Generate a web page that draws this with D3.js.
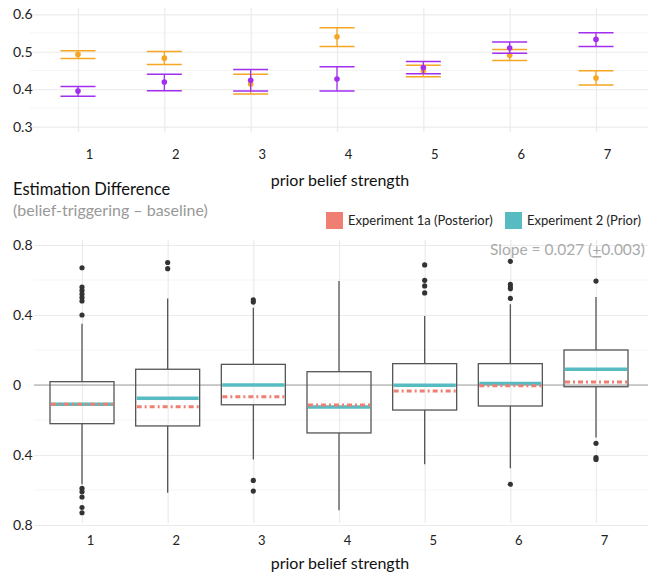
<!DOCTYPE html>
<html>
<head>
<meta charset="utf-8">
<script src="https://cdn.jsdelivr.net/npm/d3@7"></script>
<style>
  body { margin: 0; background: #fff; }
  svg { font-family: Lato, "Open Sans", sans-serif; }
</style>
</head>
<body>
<svg width="656" height="577"></svg>
<script>
// categories shared by both panels
const categories = [1, 2, 3, 4, 5, 6, 7];

// top panel: point estimate with interval (orange / purple)
const orangeMean = [0.493, 0.483, 0.414, 0.540, 0.449, 0.491, 0.430];
const orangeLow  = [0.482, 0.466, 0.387, 0.514, 0.433, 0.477, 0.411];
const orangeHigh = [0.503, 0.501, 0.440, 0.564, 0.464, 0.506, 0.449];
const purpleMean = [0.395, 0.419, 0.424, 0.427, 0.458, 0.510, 0.533];
const purpleLow  = [0.381, 0.396, 0.395, 0.395, 0.441, 0.496, 0.514];
const purpleHigh = [0.407, 0.440, 0.453, 0.460, 0.474, 0.526, 0.551];
const topTicks = [0.3, 0.4, 0.5, 0.6];

// bottom panel: box plots of estimation difference
const boxQ1     = [-0.221, -0.234, -0.113, -0.274, -0.143, -0.120, -0.010];
const boxQ3     = [0.019, 0.090, 0.118, 0.076, 0.122, 0.122, 0.200];
const boxMedian = [-0.110, -0.076, 0.000, -0.126, -0.002, 0.008, 0.090];
const boxMean1a = [-0.110, -0.124, -0.067, -0.114, -0.034, -0.004, 0.017];
const whiskLow  = [-0.567, -0.615, -0.425, -0.716, -0.453, -0.476, -0.300];
const whiskHigh = [0.350, 0.495, 0.442, 0.594, 0.394, 0.461, 0.503];
const outliers = [
  [0.67, 0.56, 0.54, 0.52, 0.50, 0.48, 0.40, -0.59, -0.61, -0.64, -0.70, -0.73],
  [0.70, 0.665],
  [0.486, 0.474, -0.545, -0.606],
  [],
  [0.686, 0.598, 0.566, 0.526],
  [0.707, 0.575, 0.56, 0.55, 0.495, -0.567],
  [0.594, -0.333, -0.415, -0.425]
];
const bottomTicks = [-0.8, -0.4, 0, 0.4, 0.8];
const legendLabels = ["Experiment 1a (Posterior)", "Experiment 2 (Prior)"];

const colors = {
  orange: "#f5a623",
  purple: "#a22ef0",
  red: "#ef7f72",
  teal: "#56bcc2",
  box: "#555555",
  grid: "#ebebeb",
  minor: "#f5f5f5"
};

const svg = d3.select("svg");

// ---------- top panel ----------
const xTop = d3.scalePoint().domain(categories).range([78, 596]);
const yTop = d3.scaleLinear().domain([0.3, 0.6]).range([126.7, 14.3]);

const gTop = svg.append("g");

// minor horizontal grid
gTop.selectAll("line.minor")
  .data([0.35, 0.45, 0.55])
  .enter().append("line")
  .attr("x1", 30).attr("x2", 648)
  .attr("y1", d => yTop(d)).attr("y2", d => yTop(d))
  .style("stroke", colors.minor).style("stroke-width", 1);

gTop.append("g")
  .call(d3.axisLeft(yTop).tickValues(topTicks).tickSize(-618).tickFormat(d3.format(".1f")))
  .attr("transform", "translate(30, 0)")
  .call(g => g.select(".domain").remove())
  .call(g => g.selectAll(".tick line").style("stroke", colors.grid).style("stroke-width", 1.2))
  .call(g => g.selectAll(".tick text")
    .attr("x", -17).attr("text-anchor", "start")
    .style("font-size", "14px").style("fill", "#222").style("font-family", "Lato, sans-serif"));

gTop.append("g")
  .attr("transform", "translate(0, 132)")
  .call(d3.axisBottom(xTop).tickSize(-124).tickPadding(0))
  .call(g => g.select(".domain").remove())
  .call(g => g.selectAll(".tick line").style("stroke", colors.grid).style("stroke-width", 1.2))
  .call(g => g.selectAll(".tick text")
    .attr("dx", 11).attr("y", 18)
    .style("font-size", "13px").style("fill", "#222").style("font-family", "Lato, sans-serif"));

function drawIntervals(mean, low, high, color) {
  const g = gTop.append("g");
  categories.forEach((c, i) => {
    const cx = xTop(c);
    g.append("line").attr("x1", cx).attr("x2", cx)
      .attr("y1", yTop(low[i])).attr("y2", yTop(high[i]))
      .style("stroke", color).style("stroke-width", 1.3);
    [low[i], high[i]].forEach(v => {
      g.append("line").attr("x1", cx - 17.5).attr("x2", cx + 17.5)
        .attr("y1", yTop(v)).attr("y2", yTop(v))
        .style("stroke", color).style("stroke-width", 1.5);
    });
  });
  g.selectAll("circle").data(mean).enter().append("circle")
    .attr("cx", (d, i) => xTop(categories[i]))
    .attr("cy", d => yTop(d))
    .attr("r", 2.8)
    .style("fill", color);
}
drawIntervals(orangeMean, orangeLow, orangeHigh, colors.orange);
drawIntervals(purpleMean, purpleLow, purpleHigh, colors.purple);

svg.append("text")
  .attr("x", 340).attr("y", 186)
  .attr("text-anchor", "middle")
  .style("font-size", "16px").style("fill", "#111")
  .text("prior belief strength");

// ---------- bottom panel ----------
const xBot = d3.scalePoint().domain(categories).range([82, 596]);
const yBot = d3.scaleLinear().domain([-0.8, 0.8]).range([525, 245]);

svg.append("text")
  .attr("x", 13).attr("y", 195)
  .style("font-size", "16.5px").style("fill", "#111")
  .text("Estimation Difference");
svg.append("text")
  .attr("x", 13).attr("y", 216)
  .style("font-size", "16px").style("fill", "#999")
  .text("(belief-triggering \u2013 baseline)");

// legend
const legendX = [326, 505];
const legendColors = [colors.red, colors.teal];
legendLabels.forEach((lab, i) => {
  svg.append("rect")
    .attr("x", legendX[i]).attr("y", 212).attr("width", 17).attr("height", 17)
    .style("fill", legendColors[i]);
  svg.append("text")
    .attr("x", legendX[i] + 22).attr("y", 225)
    .style("font-size", "13px").style("fill", "#222")
    .text(lab);
});

const gBot = svg.append("g");

gBot.selectAll("line.minor")
  .data([-0.6, -0.2, 0.2, 0.6])
  .enter().append("line")
  .attr("x1", 34).attr("x2", 648)
  .attr("y1", d => yBot(d)).attr("y2", d => yBot(d))
  .style("stroke", colors.minor).style("stroke-width", 1);

gBot.append("g")
  .attr("transform", "translate(34, 0)")
  .call(d3.axisLeft(yBot).tickValues(bottomTicks).tickSize(-614)
    .tickFormat(d => d === 0 ? "0" : d3.format(".1f")(Math.abs(d))))
  .call(g => g.select(".domain").remove())
  .call(g => g.selectAll(".tick line").style("stroke", colors.grid).style("stroke-width", 1.2))
  .call(g => g.selectAll(".tick text")
    .attr("x", -21).attr("text-anchor", "start")
    .style("font-size", "14px").style("fill", "#222").style("font-family", "Lato, sans-serif"));

gBot.append("g")
  .attr("transform", "translate(0, 523)")
  .call(d3.axisBottom(xBot).tickSize(-283).tickPadding(0))
  .call(g => g.select(".domain").remove())
  .call(g => g.selectAll(".tick line").style("stroke", colors.grid).style("stroke-width", 1.2))
  .call(g => g.selectAll(".tick text")
    .attr("dx", 8).attr("y", 13)
    .style("font-size", "13px").style("fill", "#222").style("font-family", "Lato, sans-serif"));

svg.append("text")
  .attr("x", 340).attr("y", 569)
  .attr("text-anchor", "middle")
  .style("font-size", "16px").style("fill", "#111")
  .text("prior belief strength");

// slope annotation
const slope = svg.append("text")
  .attr("x", 645).attr("y", 255)
  .attr("text-anchor", "end")
  .style("font-size", "15.5px").style("fill", "#aaa");
slope.append("tspan").text("Slope = 0.027 (");
slope.append("tspan").style("text-decoration", "underline").text("+");
slope.append("tspan").text("0.003)");

// zero line
gBot.append("line")
  .attr("x1", 34).attr("x2", 648)
  .attr("y1", yBot(0)).attr("y2", yBot(0))
  .style("stroke", "#a0a0a0").style("stroke-width", 1.2);

const boxW = 64;
categories.forEach((c, i) => {
  const cx = xBot(c);
  const g = gBot.append("g");
  // whiskers
  g.append("line").attr("x1", cx).attr("x2", cx)
    .attr("y1", yBot(boxQ3[i])).attr("y2", yBot(whiskHigh[i]))
    .style("stroke", colors.box).style("stroke-width", 1.3);
  g.append("line").attr("x1", cx).attr("x2", cx)
    .attr("y1", yBot(boxQ1[i])).attr("y2", yBot(whiskLow[i]))
    .style("stroke", colors.box).style("stroke-width", 1.3);
  // box
  g.append("rect")
    .attr("x", cx - boxW / 2).attr("width", boxW)
    .attr("y", yBot(boxQ3[i])).attr("height", yBot(boxQ1[i]) - yBot(boxQ3[i]))
    .style("fill", "none").style("stroke", colors.box).style("stroke-width", 1.3);
  // median (teal)
  g.append("line")
    .attr("x1", cx - boxW / 2 + 1).attr("x2", cx + boxW / 2 - 1)
    .attr("y1", yBot(boxMedian[i])).attr("y2", yBot(boxMedian[i]))
    .style("stroke", colors.teal).style("stroke-width", 3.5);
  // experiment 1a (red dot-dash)
  g.append("line")
    .attr("x1", cx - boxW / 2 + 1).attr("x2", cx + boxW / 2 - 1)
    .attr("y1", yBot(boxMean1a[i])).attr("y2", yBot(boxMean1a[i]))
    .style("stroke", colors.red).style("stroke-width", 3)
    .style("stroke-dasharray", "5,3,2,3");
  // outliers
  g.selectAll("circle").data(outliers[i]).enter().append("circle")
    .attr("cx", cx).attr("cy", d => yBot(d)).attr("r", 2.6)
    .style("fill", "#333");
});
</script>
</body>
</html>
